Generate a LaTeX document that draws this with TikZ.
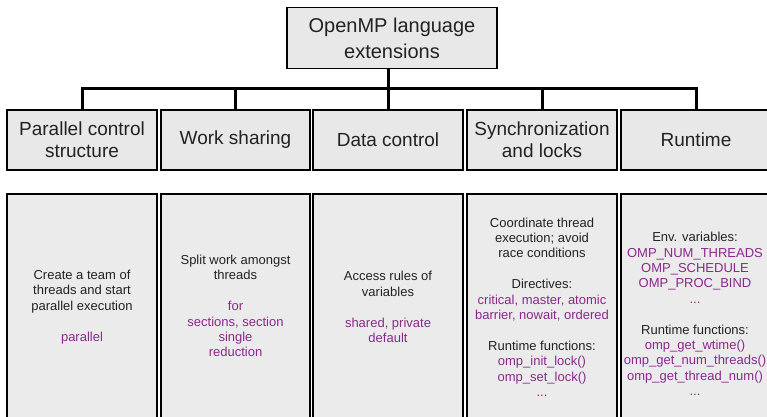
\documentclass[tikz,border=0pt]{standalone}
\usepackage{fontspec}
\setmainfont{Liberation Sans}
\definecolor{boxfill}{HTML}{E8E8E8}
\definecolor{bodyfill}{HTML}{EBEBEB}
\definecolor{ink}{HTML}{222222}
\definecolor{kw}{RGB}{140,40,140}
\tikzset{
  titlebox/.style={draw=black, line width=1.6pt, fill=boxfill, minimum width=210pt, minimum height=61pt, align=center, text=ink, font=\fontsize{20}{26}\selectfont, inner sep=0pt},
  headbox/.style={draw=black, line width=2pt, fill=boxfill, minimum height=60pt, align=center, text=ink, font=\fontsize{19}{22}\selectfont, inner sep=0pt},
  bodybox/.style={draw=black, line width=2pt, fill=bodyfill, minimum height=240pt, anchor=north, inner sep=0pt},
  bodytext/.style={align=center, text=ink, font=\fontsize{13}{15.4}\selectfont, inner sep=0pt},
  tree/.style={draw=black, line width=3pt},
}
\newcommand{\kwd}[1]{\textcolor{kw}{#1}}
\begin{document}
\begin{tikzpicture}[x=1pt,y=-1pt]
\clip (0,0) rectangle (767,416);
\fill[white] (0,0) rectangle (767,416);

% root of the hierarchy
\node[titlebox] (title) at (392,38) {OpenMP language\\extensions};

% category headers
\node[headbox, minimum width=150pt] (h1) at (82,140)    {Parallel control\\structure};
\node[headbox, minimum width=149pt] (h2) at (235.5,140) {Work sharing};
\node[headbox, minimum width=150pt] (h3) at (388,140)   {Data control};
\node[headbox, minimum width=150pt] (h4) at (542,140)   {Synchronization\\and locks};
\node[headbox, minimum width=150pt] (h5) at (696,140)   {Runtime};

% tree connectors
\coordinate (bus) at (0,88);
\draw[tree] (title.south -| h3.north) -- (h3.north);
\draw[tree] (h1.north) -- (h1.north |- bus) -- (h5.north |- bus) -- (h5.north);
\draw[tree] (h2.north |- bus) -- (h2.north);
\draw[tree] (h4.north |- bus) -- (h4.north);

% description panels
\node[bodybox, minimum width=150pt] (p1) at (82,193)    {};
\node[bodybox, minimum width=149pt] (p2) at (235.5,193) {};
\node[bodybox, minimum width=150pt] (p3) at (388,193)   {};
\node[bodybox, minimum width=150pt] (p4) at (542,193)   {};
\node[bodybox, minimum width=150pt] (p5) at (696,193)   {};

\node[bodytext] (t1) at (82,307) {Create a team of\\threads and start\\parallel execution\\[15.4pt]\kwd{parallel}};
\node[bodytext] (t2) at (235.5,306) {Split work amongst\\threads\\[15.4pt]\kwd{for}\\\kwd{sections, section}\\\kwd{single}\\\kwd{reduction}};
\node[bodytext] (t3) at (388,307) {Access rules of\\variables\\[15.4pt]\kwd{shared, private}\\\kwd{default}};
\node[bodytext] (t4) at (542,307) {Coordinate thread\\execution; avoid\\race conditions\\[15.4pt]Directives:\\\kwd{critical, master, atomic}\\\kwd{barrier, nowait, ordered}\\[15.4pt]Runtime functions:\\\kwd{omp\_init\_lock()}\\\kwd{omp\_set\_lock()}\\\kwd{...}};
\node[bodytext] (t5) at (695,314) {Env. variables:\\\kwd{OMP\_NUM\_THREADS}\\\kwd{OMP\_SCHEDULE}\\\kwd{OMP\_PROC\_BIND}\\\kwd{...}\\[15.4pt]Runtime functions:\\\kwd{omp\_get\_wtime()}\\\kwd{omp\_get\_num\_threads()}\\\kwd{omp\_get\_thread\_num()}\\\kwd{...}};
\end{tikzpicture}
\end{document}
